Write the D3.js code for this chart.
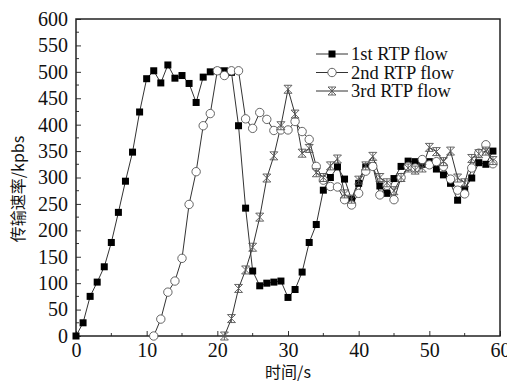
<!DOCTYPE html>
<html><head><meta charset="utf-8">
<script src="https://cdn.jsdelivr.net/npm/d3@7"></script>
<style>
body{margin:0;background:#fff;}
svg{display:block;}
</style></head>
<body>
<svg id="chart" width="507" height="383"></svg>
<script>
const seriesNames = ["1st RTP flow","2nd RTP flow","3rd RTP flow"];
const xStart1 = 0;
const flow1 = [0,25,75,102,131,177,234,293,348,424,487,502,479,513,488,493,478,442,490,500,502,502,499,398,242,123,95,100,102,104,73,88,121,177,211,276,300,320,297,258,289,320,322,284,270,298,321,331,330,325,330,316,305,289,257,278,299,328,325,350];
const xStart2 = 11;
const flow2 = [0,32,83,104,147,249,311,398,421,502,493,502,502,411,393,423,410,389,390,390,406,387,372,321,295,283,282,258,248,270,312,321,267,285,258,300,321,318,334,324,330,321,297,276,269,318,346,362,326];
const xStart3 = 21;
const flow3 = [0,33,90,125,168,225,299,341,398,467,420,346,355,309,300,322,335,269,259,295,322,340,300,290,275,300,318,314,318,357,349,330,350,299,290,336,345,350,332];
const xTicks = [0,10,20,30,40,50,60];
const yTicks = [0,50,100,150,200,250,300,350,400,450,500,550,600];
const xTitle = "时间/s";
const yTitle = "传输速率/kpbs";

const SERIF = '"Liberation Serif"';
const CJK = '"Noto Sans CJK SC"';
const svg = d3.select("#chart");
const L=76, R=500, T=19, B=336;
const x = d3.scaleLinear().domain([0,60]).range([L,R]);
const y = d3.scaleLinear().domain([0,600]).range([B,T]);

// minor ticks
svg.append("g").selectAll("line").data(d3.range(5,60,10)).join("line")
  .attr("x1",d=>x(d)).attr("x2",d=>x(d)).attr("y1",B).attr("y2",B-3)
  .attr("stroke","#333").attr("stroke-width",1);
svg.append("g").selectAll("line").data(d3.range(25,600,50)).join("line")
  .attr("y1",d=>y(d)).attr("y2",d=>y(d)).attr("x1",L).attr("x2",L+3)
  .attr("stroke","#333").attr("stroke-width",1);

const xAxis = svg.append("g").attr("transform",`translate(0,${B})`)
  .call(d3.axisBottom(x).tickValues(xTicks).tickSize(-5).tickPadding(7));
const yAxis = svg.append("g").attr("transform",`translate(${L},0)`)
  .call(d3.axisLeft(y).tickValues(yTicks).tickSize(-5).tickPadding(8));
[xAxis,yAxis].forEach(g=>{
  g.attr("font-family",null).attr("font-size",null);
  g.select(".domain").remove();
  g.selectAll(".tick line").attr("stroke","#333");
  g.selectAll("text").style("font-family",SERIF).style("font-size","20px").attr("fill","#111");
});

// frame
svg.append("rect").attr("x",L).attr("y",T).attr("width",R-L).attr("height",B-T)
  .attr("fill","none").attr("stroke","#222").attr("stroke-width",1.5);

function pts(arr,start){return arr.map((v,i)=>[start+i,v]);}
const data = [pts(flow1,xStart1),pts(flow2,xStart2),pts(flow3,xStart3)];
const line = d3.line().x(d=>x(d[0])).y(d=>y(d[1]));

function drawMarker(g,type,cx,cy){
  if(type===0){
    g.append("rect").attr("x",cx-3.5).attr("y",cy-3.5).attr("width",7).attr("height",7).attr("fill","#000");
  } else if(type===1){
    g.append("circle").attr("cx",cx).attr("cy",cy).attr("r",4.2).attr("fill","#fff").attr("stroke","#555").attr("stroke-width",0.9);
  } else {
    const s=4;
    g.append("path").attr("d",`M${cx-s},${cy-s}L${cx+s},${cy+s}M${cx+s},${cy-s}L${cx-s},${cy+s}M${cx-s},${cy-s}L${cx+s},${cy-s}M${cx-s},${cy+s}L${cx+s},${cy+s}M${cx},${cy-s}L${cx},${cy+s}`)
      .attr("stroke","#555").attr("stroke-width",0.9).attr("fill","none");
  }
}

data.forEach((d,k)=>{
  svg.append("path").datum(d).attr("d",line).attr("fill","none").attr("stroke","#333").attr("stroke-width",1);
});
data.forEach((d,k)=>{
  const g = svg.append("g");
  d.forEach(p=>drawMarker(g,k,x(p[0]),y(p[1])));
});

// legend
const lg = svg.append("g");
seriesNames.forEach((n,i)=>{
  const yy = 54 + i*18.5;
  lg.append("line").attr("x1",316).attr("x2",348).attr("y1",yy).attr("y2",yy).attr("stroke","#333");
  drawMarker(lg,i,332,yy);
  lg.append("text").attr("x",351).attr("y",yy+6).text(n)
    .style("font-family",SERIF).style("font-size","18.5px").attr("fill","#111");
});

// titles
svg.append("text").attr("x",288).attr("y",378).attr("text-anchor","middle").text(xTitle)
  .style("font-family",CJK).style("font-size","16px").attr("fill","#111");
svg.append("text").attr("transform","translate(24,189) rotate(-90)").attr("text-anchor","middle").text(yTitle)
  .style("font-family",CJK).style("font-size","16px").attr("fill","#111");
</script>
</body></html>
